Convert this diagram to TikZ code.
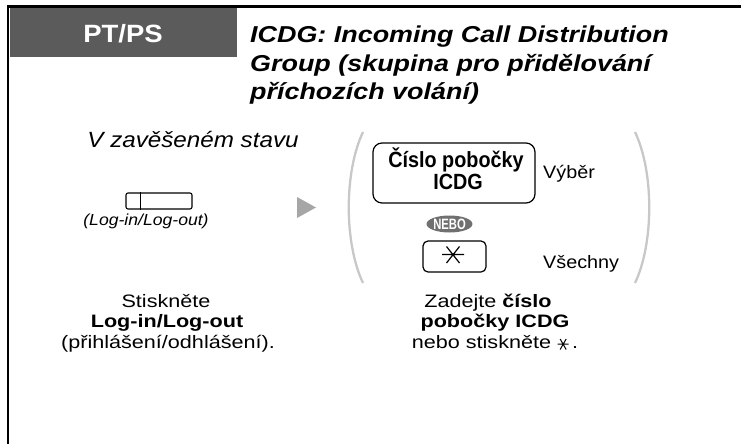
\documentclass[tikz,border=0pt]{standalone}
\usepackage{fontspec}
\setmainfont{Liberation Sans}[FakeStretch=1.1]
\newfontfamily\bodyfont{Liberation Sans}[FakeStretch=1.2]
\newfontfamily\titlefont{Liberation Sans}[FakeStretch=1.17]
\newfontfamily\narrowfont{Liberation Sans}[FakeStretch=0.9]
\newfontfamily\nebofont{Liberation Sans}[FakeStretch=0.75]
\usetikzlibrary{shapes.geometric}
\definecolor{hdrgray}{HTML}{5B5B5B}
\definecolor{arcgray}{HTML}{C8C8C8}
\definecolor{trigray}{HTML}{A6A6A6}
\definecolor{nebogray}{HTML}{707070}
\newcommand\sxtsym{\tikz[baseline=0pt]{\draw[line width=1pt] (0pt,4pt)--(11pt,4pt) (2.5pt,-1.5pt)--(8.5pt,9pt) (2.5pt,9pt)--(8.5pt,-1.5pt);}}
\tikzset{
  keybox/.style={draw, line width=1.2pt, inner sep=0pt},
  bodytext/.style={inner sep=0pt, font=\bodyfont\fontsize{18}{21}\selectfont},
  labeltext/.style={inner sep=0pt, font=\fontsize{18}{22}\selectfont},
  titletext/.style={inner sep=0pt, anchor=base west, font=\titlefont\bfseries\itshape\fontsize{23}{28}\selectfont},
  keytext/.style={inner sep=0pt, font=\narrowfont\bfseries\fontsize{22}{24}\selectfont},
}
\begin{document}
\begin{tikzpicture}[x=1pt,y=-1pt]
\useasboundingbox (0,0) rectangle (741,444);
% frame
\draw[line width=2.4pt, line join=miter] (8,444) -- (8,6.5) -- (741,6.5);
% header
\node (hdr) [fill=hdrgray, inner sep=0pt, minimum width=227pt, minimum height=49pt, anchor=north west] at (9.5,7.5) {};
\node (ptps) [anchor=base, inner sep=0pt, text=white, font=\bfseries\fontsize{25}{30}\selectfont] at (123,43) {PT/PS};
\node (t1) [titletext] at (250,43) {ICDG: Incoming Call Distribution};
\node (t2) [titletext] at (250,71) {Group (skupina pro přidělování};
\node (t3) [titletext] at (250,99) {příchozích volání)};
% left step
\node (state) [anchor=base, inner sep=0pt, font=\itshape\fontsize{22}{26}\selectfont] at (193,147) {V zavěšeném stavu};
\node (loginkey) [keybox, rounded corners=2pt, line width=1.1pt, minimum width=66pt, minimum height=16pt] at (159,201) {};
\draw[line width=1.1pt] ([xshift=15pt]loginkey.north west) -- ([xshift=15pt]loginkey.south west);
\node (loginlbl) [anchor=base, inner sep=0pt, font=\itshape\fontsize{16}{18}\selectfont] at (146,225) {(Log-in/Log-out)};
% arrow triangle
\fill[trigray] (297,197) -- (316,207.5) -- (297,218) -- cycle;
% brackets
\draw[arcgray, line width=2.3pt] (363,132) .. controls (344,172) and (344,243) .. (363,283);
\draw[arcgray, line width=2.3pt] (635,132) .. controls (654,172) and (654,243) .. (635,283);
% ICDG key
\node (icdgkey) [keybox, rounded corners=9pt, minimum width=162pt, minimum height=60pt] at (454,173) {};
\node (k1) [keytext, anchor=base] at (456,167) {Číslo pobočky};
\node (k2) [keytext, anchor=base] at (458,189) {ICDG};
\node (vyber) [labeltext, anchor=base west] at (543,178) {Výběr};
% NEBO
\node (nebo) [ellipse, fill=nebogray, inner sep=0pt, minimum width=45pt, minimum height=17pt, text=white, font=\nebofont\bfseries\fontsize{15}{16}\selectfont] at (449.5,224) {NEBO};
% star key
\node (starkey) [keybox, rounded corners=5pt, minimum width=63pt, minimum height=31pt] at (454.5,256.5) {};
\draw[line width=1.2pt] (442,254.5) -- (464,254.5) (446.5,246.5) -- (459.5,263) (446.5,263) -- (459.5,246.5);
\node (vsechny) [labeltext, anchor=base west] at (543,268) {Všechny};
% bottom texts
\node (b1) [bodytext, anchor=base] at (166,307) {Stiskněte};
\node (b2) [bodytext, anchor=base] at (167,327.5) {\bfseries Log-in/Log-out};
\node (b3) [bodytext, anchor=base] at (168,348) {(přihlášení/odhlášení).};
\node (c1) [bodytext, anchor=base] at (488,307) {Zadejte \textbf{číslo}};
\node (c2) [bodytext, anchor=base] at (495,327.5) {\bfseries pobočky ICDG};
\node (c3) [bodytext, anchor=base] at (495,348) {nebo stiskněte \sxtsym\,.};
\end{tikzpicture}
\end{document}
